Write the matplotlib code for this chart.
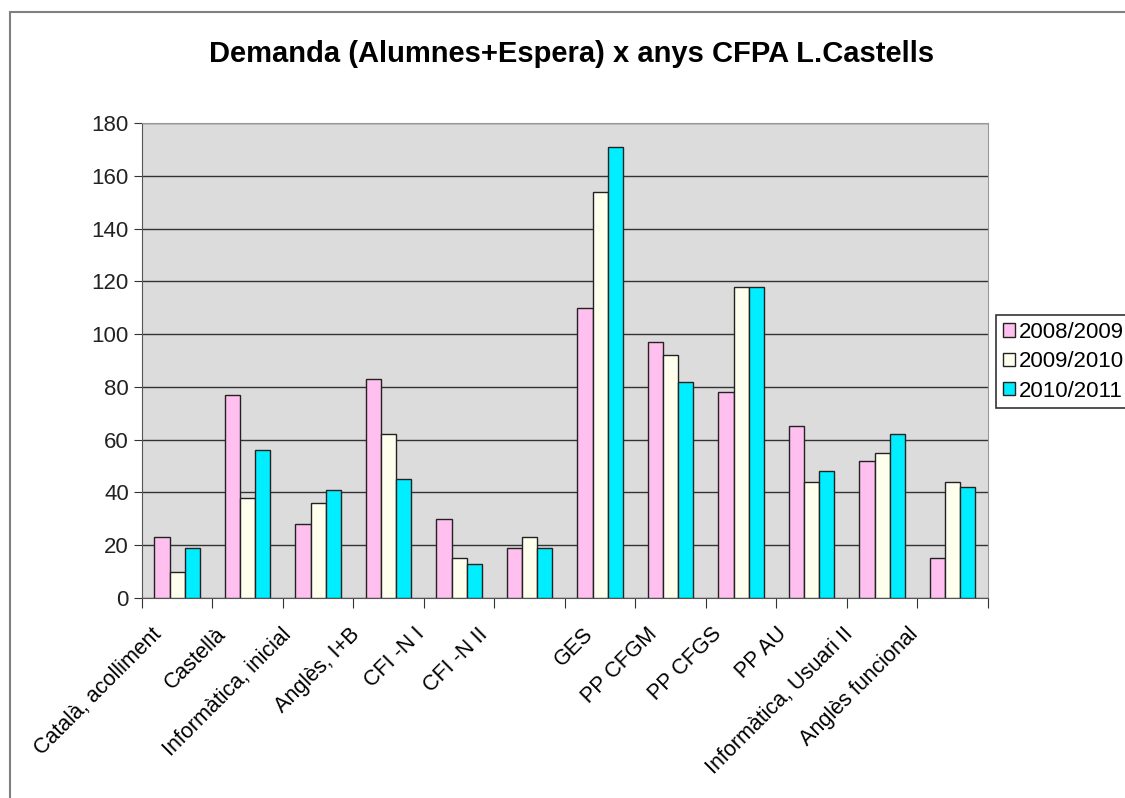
import numpy as np
import matplotlib.pyplot as plt
from matplotlib.patches import Rectangle
from matplotlib.transforms import ScaledTranslation

categories = ['Català, acolliment', 'Castellà', 'Informàtica, inicial', 'Anglès, I+B',
              'CFI -N I', 'CFI -N II', 'GES', 'PP CFGM', 'PP CFGS', 'PP AU',
              'Informàtica, Usuari II', 'Anglès funcional']
s2008 = [23, 77, 28, 83, 30, 19, 110, 97, 78, 65, 52, 15]
s2009 = [10, 38, 36, 62, 15, 23, 154, 92, 118, 44, 55, 44]
s2010 = [19, 56, 41, 45, 13, 19, 171, 82, 118, 48, 62, 42]
series_labels = ['2008/2009', '2009/2010', '2010/2011']
colors = ['#FFBFEF', '#FFFFEE', '#00EEFF']

# horizontal nudge of each rotated category label (pixels), as in the original
label_dx = [-26, -32, -37, -40, -45, -52, -18, -24, -30, -36, -40, -45]

plt.rcParams['font.family'] = ['Liberation Sans', 'DejaVu Sans']

fig = plt.figure(figsize=(11.25, 7.98), dpi=100)
ax = fig.add_axes([0.1262, 0.2506, 0.7520, 0.5953])

# chart border (cropped at right and bottom in the original)
fig.patches.append(Rectangle((10 / 1125, -0.1), 1.2, 1 - 12 / 798 + 0.1,
                             transform=fig.transFigure, fill=False,
                             edgecolor='#808080', linewidth=1.5))

x = np.arange(len(categories))
w = 0.215
for i, (vals, lab, col) in enumerate(zip([s2008, s2009, s2010], series_labels, colors)):
    ax.bar(x + (i - 1) * w, vals, width=w, color=col, edgecolor='#222222',
           linewidth=1.0, label=lab, zorder=3)

ax.set_facecolor('#DCDCDC')
ax.set_xlim(-0.5, len(categories) - 0.5)
ax.set_ylim(0, 180)
ax.set_yticks(range(0, 181, 20))
ax.yaxis.grid(True, color='#333333', linewidth=1.0, zorder=1)
ax.tick_params(axis='y', labelsize=16, colors='#333333', length=6, direction='out')
ax.tick_params(axis='y', labelcolor='#222222')

ax.set_xticks(np.arange(len(categories) + 1) - 0.5, minor=False)
ax.set_xticklabels([])
ax.set_xticks(x, minor=True)
ax.set_xticklabels(categories, minor=True, rotation=45, ha='right',
                   rotation_mode='anchor', fontsize=15.5)
ax.tick_params(axis='x', which='major', length=7, direction='out', color='#333333')
ax.tick_params(axis='x', which='minor', length=0, pad=18.5)

for lbl, dx in zip(ax.get_xticklabels(minor=True), label_dx):
    lbl.set_transform(lbl.get_transform() + ScaledTranslation(dx / 100, 0, fig.dpi_scale_trans))

for side in ['top', 'right']:
    ax.spines[side].set_color('#999999')
ax.spines['left'].set_color('#555555')
ax.spines['bottom'].set_color('#555555')

fig.text(0.508, 0.932, 'Demanda (Alumnes+Espera) x anys CFPA L.Castells',
         ha='center', va='center', fontsize=21, fontweight='bold')

leg = fig.legend(loc='upper left', bbox_to_anchor=(996 / 1125, 1 - 315 / 798),
                 fontsize=16, frameon=True, fancybox=False, edgecolor='black',
                 borderpad=0.3, handlelength=0.55, handleheight=0.55,
                 handletextpad=0.2, labelspacing=0.38, borderaxespad=0)
leg.get_frame().set_linewidth(1.2)

fig.savefig('out.png', dpi=100)
